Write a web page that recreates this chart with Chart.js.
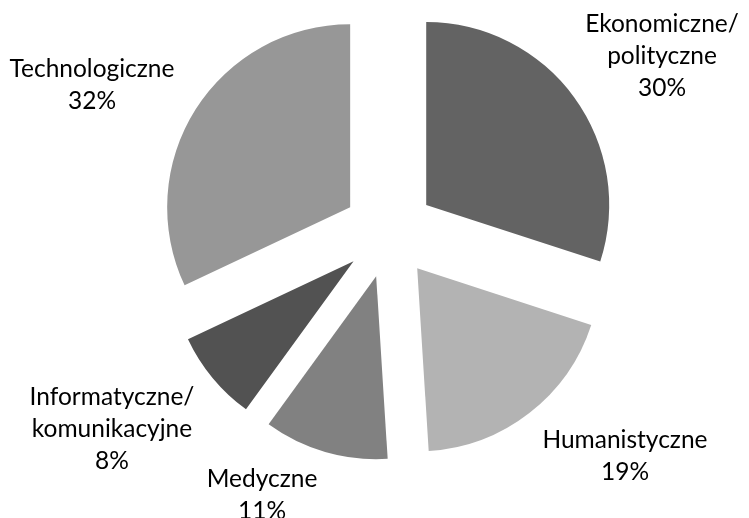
<!DOCTYPE html>
<html><head><meta charset="utf-8">
<script src="https://cdn.jsdelivr.net/npm/chart.js@4.4.0/dist/chart.umd.min.js"></script>
<style>html,body{margin:0;padding:0;background:#fff}#wrap{width:749px;height:518px}</style>
</head><body><div id="wrap"><canvas id="c" width="749" height="518"></canvas></div>
<script>
const categories = [["Ekonomiczne/","polityczne"],["Humanistyczne"],["Medyczne"],["Informatyczne/","komunikacyjne"],["Technologiczne"]];
const values = [30,19,11,8,32];
const percentLabels = ["30%","19%","11%","8%","32%"];
const colors = ["#636363","#b3b3b3","#818181","#525252","#979797"];
// label anchor (first-line baseline) relative to pie centre, px
const labelOffsets = [[273,-200],[236,216],[-127,255],[-277,173],[-297,-155]];
const FONT = '24.5px Lato';
const LINE = 32;
const EXPLODE = 46;

// explode every slice by the same distance along its bisector (keeps equal radii)
const explodePlugin = {
  id: 'explode',
  afterDatasetUpdate(chart, args) {
    const meta = chart.getDatasetMeta(args.index);
    meta.data.forEach(arc => {
      const mid = (arc.startAngle + arc.endAngle) / 2;
      arc.x += Math.cos(mid) * EXPLODE;
      arc.y += Math.sin(mid) * EXPLODE;
    });
  }
};

const labelPlugin = {
  id: 'pieLabels',
  afterDatasetsDraw(chart) {
    const ctx = chart.ctx;
    const a = chart.chartArea;
    const cx = (a.left + a.right) / 2, cy = (a.top + a.bottom) / 2;
    ctx.save();
    ctx.font = FONT;
    ctx.fillStyle = '#000';
    ctx.textAlign = 'center';
    ctx.textBaseline = 'alphabetic';
    chart.getDatasetMeta(0).data.forEach((arc, i) => {
      const lines = categories[i].concat([percentLabels[i]]);
      const [ox, oy] = labelOffsets[i];
      lines.forEach((t, j) => ctx.fillText(t, cx + ox, cy + oy + j * LINE));
    });
    ctx.restore();
  }
};

new Chart(document.getElementById('c'), {
  type: 'pie',
  data: {
    labels: categories.map(c => c.join(' ')),
    datasets: [{ data: values, backgroundColor: colors, borderWidth: 0, offset: 0 }]
  },
  options: {
    responsive: false,
    animation: false,
    radius: 183,
    layout: { padding: { left: 29, right: 0, top: 0, bottom: 54 } },
    plugins: { legend: { display: false }, tooltip: { enabled: false } }
  },
  plugins: [explodePlugin, labelPlugin]
});
</script></body></html>
